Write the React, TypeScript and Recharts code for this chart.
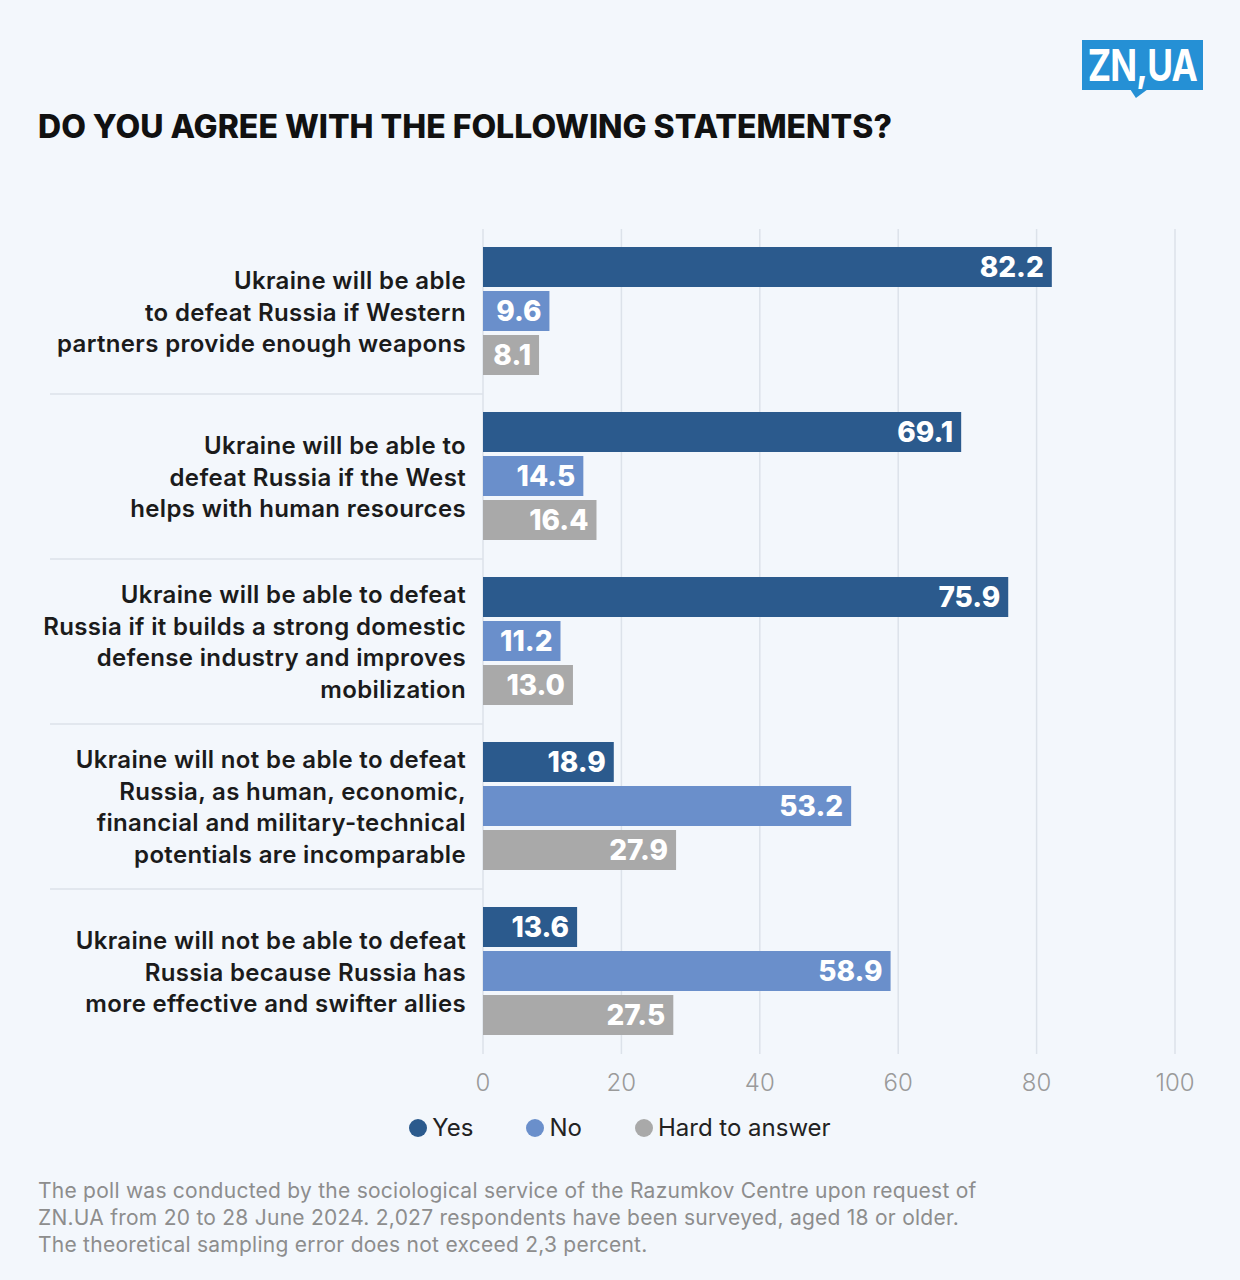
import React from 'react';
import { BarChart, Bar, XAxis, YAxis, CartesianGrid, LabelList } from 'recharts';

const categories = [
  'Ukraine will be able\nto defeat Russia if Western\npartners provide enough weapons',
  'Ukraine will be able to\ndefeat Russia if the West\nhelps with human resources',
  'Ukraine will be able to defeat\nRussia if it builds a strong domestic\ndefense industry and improves\nmobilization',
  'Ukraine will not be able to defeat\nRussia, as human, economic,\nfinancial and military-technical\npotentials are incomparable',
  'Ukraine will not be able to defeat\nRussia because Russia has\nmore effective and swifter allies',
];
const yesValues = [82.2, 69.1, 75.9, 18.9, 13.6];
const noValues = [9.6, 14.5, 11.2, 53.2, 58.9];
const hardValues = [8.1, 16.4, 13.0, 27.9, 27.5];
const xTicks = [0, 20, 40, 60, 80, 100];

const SERIES = [
  { key: 'yes', name: 'Yes', color: '#2b5a8d' },
  { key: 'no', name: 'No', color: '#6a8fcb' },
  { key: 'hard', name: 'Hard to answer', color: '#a9a9a9' },
];

const FONT = 'Inter, "Noto Sans", sans-serif';
const BG = '#f3f7fc';
const GRID = '#dce2ea';

// chart geometry
const CHART_W = 1240;
const CHART_H = 1110;
const MARGIN = { top: 229, right: 65, bottom: 0, left: 0 };
const Y_AXIS_W = 483;
const X_AXIS_H = 56;
const PLOT_H = CHART_H - MARGIN.top - MARGIN.bottom - X_AXIS_H;
const BAND = PLOT_H / categories.length;
const LINE_H = 31.7;

const data = categories.map((name, i) => ({
  name,
  yes: yesValues[i],
  no: noValues[i],
  hard: hardValues[i],
}));

function CategoryTick(props: any) {
  const { x, y, payload, index } = props;
  const lines = String(payload.value).split('\n');
  const startY = y - ((lines.length - 1) / 2) * LINE_H;
  return (
    <g>
      <text
        x={x}
        y={startY}
        textAnchor="end"
        dominantBaseline="central"
        fill="#1b1b1b"
        fontSize={24}
        fontWeight={600}
        fontFamily={FONT}
        letterSpacing={0.35}
      >
        {lines.map((line, i) => (
          <tspan key={i} x={x} y={startY + i * LINE_H}>
            {line}
          </tspan>
        ))}
      </text>
      {index < categories.length - 1 && (
        <line
          x1={50}
          x2={Y_AXIS_W}
          y1={y + BAND / 2}
          y2={y + BAND / 2}
          stroke={GRID}
          strokeWidth={1.5}
        />
      )}
    </g>
  );
}

function ValueLabel(props: any) {
  const { x, y, width, height, value } = props;
  return (
    <text
      x={x + width - 8}
      y={y + height / 2}
      textAnchor="end"
      dominantBaseline="central"
      fill="#fff"
      fontSize={28}
      fontWeight={800}
      fontFamily={FONT}
    >
      {Number(value).toFixed(1)}
    </text>
  );
}

function Logo() {
  return (
    <div style={{ position: 'absolute', left: 1082, top: 40, width: 121, height: 60 }}>
      <div
        style={{
          width: 121,
          height: 50,
          background: '#2590d5',
          display: 'flex',
          alignItems: 'center',
          justifyContent: 'center',
          overflow: 'visible',
        }}
      >
        <span
          style={{
            color: '#fff',
            fontSize: 44,
            fontWeight: 700,
            lineHeight: 1,
            letterSpacing: -1,
            transform: 'scaleX(0.8)',
            whiteSpace: 'nowrap',
          }}
        >
          ZN,UA
        </span>
      </div>
      <div
        style={{
          position: 'absolute',
          left: 48,
          top: 49,
          width: 18,
          height: 9,
          background: '#2590d5',
          clipPath: 'polygon(0 0, 100% 0, 33% 100%)',
        }}
      />
    </div>
  );
}

export default function App() {
  return (
    <div
      style={{
        position: 'absolute',
        left: 0,
        top: 0,
        width: 1240,
        height: 1280,
        background: BG,
        fontFamily: FONT,
        overflow: 'hidden',
      }}
    >
      <Logo />
      <div
        style={{
          position: 'absolute',
          left: 38,
          top: 111,
          fontSize: 32,
          lineHeight: 1,
          fontWeight: 800,
          color: '#111',
        }}
      >
        DO YOU AGREE WITH THE FOLLOWING STATEMENTS?
      </div>

      <div style={{ position: 'absolute', left: 0, top: 0 }}>
        <BarChart
          width={CHART_W}
          height={CHART_H}
          data={data}
          layout="vertical"
          margin={MARGIN}
          barCategoryGap={18}
          barGap={4}
        >
          <CartesianGrid vertical horizontal={false} stroke={GRID} strokeWidth={1.5} />
          <XAxis
            type="number"
            domain={[0, 100]}
            ticks={xTicks}
            height={X_AXIS_H}
            axisLine={false}
            tickLine={false}
            tickSize={0}
            tickMargin={20}
            tick={{ fill: '#9a9a9a', fontSize: 24, fontWeight: 300, fontFamily: FONT }}
          />
          <YAxis
            type="category"
            dataKey="name"
            width={Y_AXIS_W}
            axisLine={false}
            tickLine={false}
            tickSize={0}
            tickMargin={17}
            interval={0}
            tick={<CategoryTick />}
          />
          {SERIES.map((s) => (
            <Bar key={s.key} dataKey={s.key} name={s.name} fill={s.color} isAnimationActive={false}>
              <LabelList dataKey={s.key} content={<ValueLabel />} />
            </Bar>
          ))}
        </BarChart>
      </div>

      <div
        style={{
          position: 'absolute',
          left: 0,
          top: 1113,
          width: 1240,
          display: 'flex',
          justifyContent: 'center',
          gap: 53,
          fontSize: 24,
          color: '#222',
        }}
      >
        {SERIES.map((s) => (
          <div key={s.key} style={{ display: 'flex', alignItems: 'center', gap: 5 }}>
            <span
              style={{
                width: 18,
                height: 18,
                borderRadius: '50%',
                background: s.color,
                display: 'inline-block',
              }}
            />
            <span>{s.name}</span>
          </div>
        ))}
      </div>

      <div
        style={{
          position: 'absolute',
          left: 38,
          top: 1177,
          fontSize: 21,
          lineHeight: '27px',
          letterSpacing: 0.25,
          color: '#8d8d8d',
        }}
      >
        The poll was conducted by the sociological service of the Razumkov Centre upon request of
        <br />
        ZN.UA from 20 to 28 June 2024. 2,027 respondents have been surveyed, aged 18 or older.
        <br />
        The theoretical sampling error does not exceed 2,3 percent.
      </div>
    </div>
  );
}
